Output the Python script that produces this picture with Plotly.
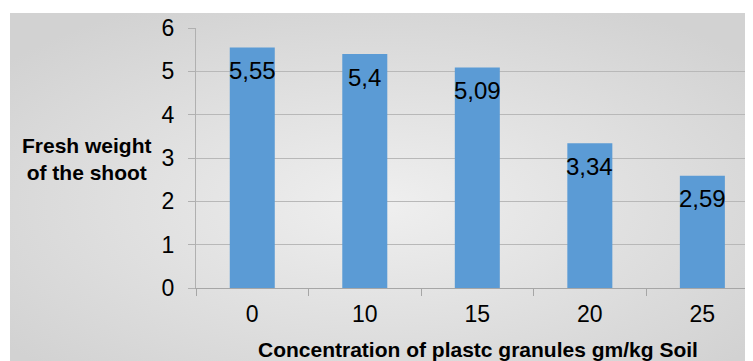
import plotly.graph_objects as go
import base64

categories = ["0", "10", "15", "20", "25"]
values = [5.55, 5.4, 5.09, 3.34, 2.59]
y_title = "Fresh weight<br>of the shoot"
x_title = "Concentration of plastc granules gm/kg Soil"

FONT = "Liberation Sans, Arial, sans-serif"
labels = [str(v).replace(".", ",") for v in values]

svg = """<svg xmlns='http://www.w3.org/2000/svg' width='743' height='348' preserveAspectRatio='none'>
<defs><radialGradient id='g' cx='0.5' cy='0.55' r='0.65'>
<stop offset='0' stop-color='#efefef'/><stop offset='1' stop-color='#d2d2d2'/></radialGradient></defs>
<rect width='743' height='348' fill='url(#g)'/></svg>"""
bg_uri = "data:image/svg+xml;base64," + base64.b64encode(svg.encode()).decode()

fig = go.Figure()
fig.add_trace(go.Bar(x=categories, y=values, width=0.4, marker=dict(color="#5b9bd5", line=dict(width=0)),
                     hoverinfo="skip"))

for i, (v, t) in enumerate(zip(values, labels)):
    fig.add_annotation(x=i, y=v, text=t, showarrow=False, yanchor="middle", yshift=-23,
                       font=dict(family=FONT, size=24, color="#000000"))

fig.add_annotation(xref="paper", yref="paper", x=(87 - 196) / 557, y=(288 - 159) / 260,
                   text="<b>" + y_title + "</b>", showarrow=False, xanchor="center", yanchor="middle",
                   font=dict(family=FONT, size=21, color="#000000"), align="center")
fig.add_annotation(xref="paper", yref="paper", x=(478 - 196) / 557, y=(288 - 349) / 260,
                   text="<b>" + x_title + "</b>", showarrow=False, xanchor="center", yanchor="middle",
                   font=dict(family=FONT, size=21, color="#000000"))

fig.add_layout_image(dict(source=bg_uri, xref="paper", yref="paper", x=(10 - 196) / 557, y=(288 - 13) / 260,
                          sizex=743 / 557, sizey=348 / 260, sizing="stretch", layer="below",
                          xanchor="left", yanchor="top"))

fig.update_layout(
    width=745, height=353,
    margin=dict(l=188, r=0, t=20, b=73, autoexpand=False),
    paper_bgcolor="#ffffff", plot_bgcolor="rgba(0,0,0,0)",
    showlegend=False,
    font=dict(family=FONT, size=23, color="#000000"),
    xaxis=dict(type="category", range=[-0.5, 4.45], tickson="boundaries", ticks="outside", ticklen=7,
               tickcolor="#a6a6a6", showline=True, linecolor="#a6a6a6", linewidth=1, showgrid=False,
               ticklabelstandoff=5, tickfont=dict(size=23), automargin=False),
    yaxis=dict(range=[0, 6], dtick=1, ticks="outside", ticklen=7, tickcolor="#b0b0b0",
               showline=True, linecolor="#b0b0b0", linewidth=1, showgrid=True, gridcolor="#b8b8b8",
               gridwidth=1, zeroline=False, ticklabelstandoff=9, tickfont=dict(size=23), automargin=False),
)

fig.write_html("out.html")
